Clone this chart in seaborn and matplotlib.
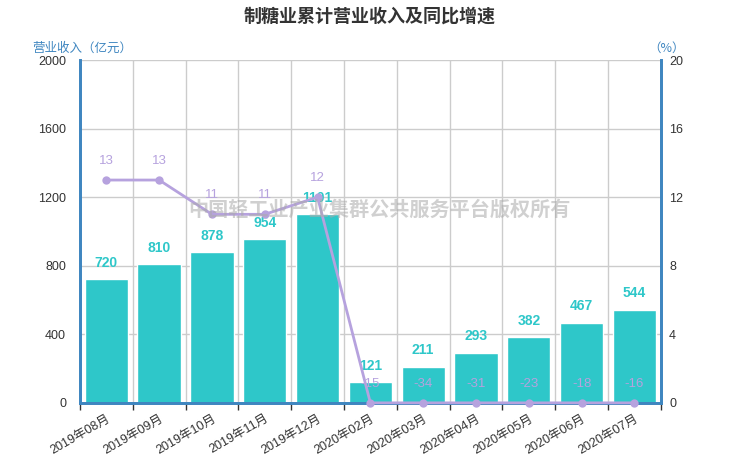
import numpy as np
import pandas as pd
import matplotlib
matplotlib.use("Agg")
import matplotlib.pyplot as plt
import seaborn as sns

months = ["2019年08月", "2019年09月", "2019年10月", "2019年11月", "2019年12月",
          "2020年02月", "2020年03月", "2020年04月", "2020年05月", "2020年06月", "2020年07月"]
revenue = [720, 810, 878, 954, 1101, 121, 211, 293, 382, 467, 544]
growth = [13, 13, 11, 11, 12, -15, -34, -31, -23, -18, -16]
left_ticks = [0, 400, 800, 1200, 1600, 2000]
right_ticks = [0, 4, 8, 12, 16, 20]

sns.set_theme(style="white")
plt.rcParams['font.family'] = ['Liberation Sans', 'Noto Sans CJK SC', 'DejaVu Sans']

BAR = "#2EC7C9"
LINE = "#B6A2DE"
AXC = "#3F86C0"
GRID = "#CCCCCC"

fig = plt.figure(figsize=(7.4, 4.62), dpi=100)
ax = fig.add_axes([0.108, 0.128, 0.785, 0.742])

df = pd.DataFrame({"month": months, "revenue": revenue})
sns.barplot(data=df, x="month", y="revenue", color=BAR, saturation=1, width=0.82, ax=ax, zorder=2)
ax.set_xlim(-0.5, len(months) - 0.5)
ax.set_ylim(left_ticks[0], left_ticks[-1])
ax.set_yticks(left_ticks)
ax.set_xlabel("")
ax.set_ylabel("")

# grid
ax.set_xticks(np.arange(len(months) + 1) - 0.5, minor=True)
ax.grid(True, which="minor", axis="x", color=GRID, lw=1, zorder=0)
ax.grid(True, which="major", axis="y", color=GRID, lw=1, zorder=0)
ax.set_axisbelow(True)

ax.tick_params(axis="x", which="major", length=0, labelsize=9, colors="#333333", pad=7)
ax.tick_params(axis="x", which="minor", length=5, width=1, color="#333333", bottom=True)
ax.tick_params(axis="y", length=0, labelsize=9, colors="#333333", pad=10)
for lab in ax.get_xticklabels():
    lab.set_rotation(30)
    lab.set_ha("right")
    lab.set_rotation_mode("anchor")

ax.spines["top"].set_visible(False)
for sp in ["left", "right", "bottom"]:
    ax.spines[sp].set_color(AXC)
    ax.spines[sp].set_linewidth(2)

# bar labels
for i, v in enumerate(revenue):
    ax.text(i, v + 55, f"{v}", ha="center", va="bottom", color=BAR,
            fontsize=10, fontweight="bold", zorder=5)

# secondary axis line
ax2 = ax.twinx()
ax2.set_ylim(right_ticks[0], right_ticks[-1])
ax2.set_yticks(right_ticks)
ax2.tick_params(axis="y", length=0, labelsize=9, colors="#333333", pad=6)
ax2.spines["top"].set_visible(False)
for sp in ["left", "right", "bottom"]:
    ax2.spines[sp].set_color(AXC)
    ax2.spines[sp].set_linewidth(2)
ax2.grid(False)

shown = np.clip(np.array(growth, dtype=float), right_ticks[0], right_ticks[-1])
xpos = np.arange(len(months))
sns.lineplot(x=xpos, y=shown, ax=ax2, color=LINE, lw=2, marker="o",
             markersize=6, markeredgewidth=0, clip_on=False, zorder=4)
for i, (g, s) in enumerate(zip(growth, shown)):
    ax2.text(i, s + 0.75, f"{g}", ha="center", va="bottom", color=LINE,
             fontsize=9.5, zorder=5)
ax2.set_ylabel("")

# axis names
fig.text(0.043, 0.895, "营业收入（亿元）", color=AXC, fontsize=9, ha="left", va="center",
         family=["Noto Sans CJK SC"])
fig.text(0.876, 0.895, "（%）", color=AXC, fontsize=9, ha="left", va="center",
         family=["Noto Sans CJK SC"])

# title
fig.text(0.5, 0.965, "制糖业累计营业收入及同比增速", ha="center", va="center",
         fontsize=13, fontweight="bold", color="#333333", family=["Noto Sans CJK SC"])

# watermark
fig.text(0.513, 0.548, "中国轻工业产业集群公共服务平台版权所有", ha="center", va="center",
         fontsize=14.5, fontweight="bold", color="#AAAAAA", alpha=0.55, zorder=10,
         family=["Noto Sans CJK SC"])

fig.savefig("out.png", dpi=100)
